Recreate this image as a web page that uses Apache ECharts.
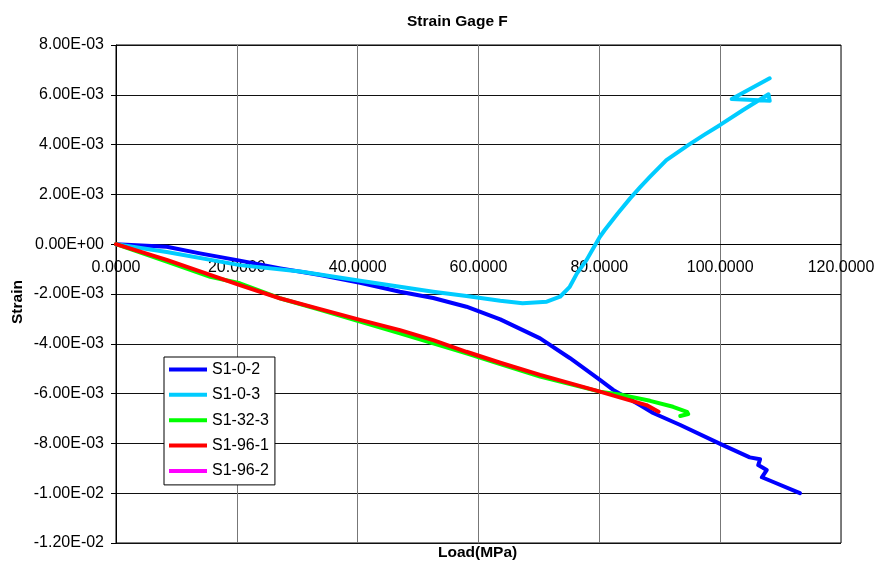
<!DOCTYPE html>
<html>
<head>
<meta charset="utf-8">
<script src="https://cdn.jsdelivr.net/npm/echarts@6/dist/echarts.min.js"></script>
<style>
  html, body { margin: 0; padding: 0; background: #fff; }
  #chart { width: 876px; height: 563px; }
</style>
</head>
<body>
<div id="chart"></div>
<script>
// Series names
const seriesNames = ['S1-0-2', 'S1-0-3', 'S1-32-3', 'S1-96-1', 'S1-96-2'];

// Load (MPa) / strain readings for each specimen
const loadS102 = [0, 8.4, 13.9, 20.5, 27.2, 33.8, 40.4, 47.0, 52.5, 58.0, 63.6, 70.2, 75.1, 80.1, 82.3, 86.7, 88.9, 93.4, 100.0, 104.9, 106.6, 106.3, 107.7, 106.9, 108.7, 113.2];
const strainS102 = [0, -0.10e-3, -0.37e-3, -0.66e-3, -0.97e-3, -1.24e-3, -1.55e-3, -1.91e-3, -2.16e-3, -2.51e-3, -3.02e-3, -3.78e-3, -4.57e-3, -5.45e-3, -5.85e-3, -6.46e-3, -6.78e-3, -7.26e-3, -8.02e-3, -8.56e-3, -8.64e-3, -8.87e-3, -9.07e-3, -9.36e-3, -9.54e-3, -10.00e-3];

const loadS103 = [0, 8.4, 20.5, 30.5, 40.4, 47.0, 52.5, 58.0, 63.6, 67.3, 71.3, 73.5, 75.1, 76.3, 77.9, 79.0, 80.1, 80.9, 83.0, 85.1, 86.8, 88.4, 91.1, 94.7, 97.4, 100.0, 103.8, 106.0, 108.0, 108.2, 101.9, 104.4, 108.2];
const strainS103 = [0, -0.31e-3, -0.84e-3, -1.10e-3, -1.47e-3, -1.71e-3, -1.91e-3, -2.08e-3, -2.27e-3, -2.37e-3, -2.31e-3, -2.11e-3, -1.71e-3, -1.17e-3, -0.63e-3, -0.16e-3, 0.30e-3, 0.57e-3, 1.22e-3, 1.84e-3, 2.30e-3, 2.71e-3, 3.38e-3, 3.98e-3, 4.40e-3, 4.79e-3, 5.39e-3, 5.72e-3, 6.02e-3, 5.76e-3, 5.83e-3, 6.16e-3, 6.66e-3];

const loadS1323 = [0, 8.4, 15.6, 20.5, 27.1, 33.8, 40.4, 47.0, 52.5, 58.0, 63.6, 70.2, 80.1, 83.9, 88.4, 92.2, 94.5, 94.7, 93.4];
const strainS1323 = [0, -0.70e-3, -1.31e-3, -1.57e-3, -2.17e-3, -2.64e-3, -3.11e-3, -3.58e-3, -3.98e-3, -4.38e-3, -4.82e-3, -5.32e-3, -5.92e-3, -6.06e-3, -6.29e-3, -6.53e-3, -6.73e-3, -6.82e-3, -6.90e-3];

const loadS1961 = [0, 8.4, 20.5, 27.1, 33.8, 40.4, 47.0, 52.5, 58.0, 63.6, 70.2, 80.1, 84.5, 87.8, 89.8];
const strainS1961 = [0, -0.63e-3, -1.64e-3, -2.17e-3, -2.61e-3, -3.04e-3, -3.45e-3, -3.85e-3, -4.32e-3, -4.76e-3, -5.25e-3, -5.92e-3, -6.23e-3, -6.46e-3, -6.73e-3];

const loadS1962 = [];
const strainS1962 = [];

// Axis ranges
const xMin = 0, xMax = 120, xStep = 20;
const yMin = -0.012, yMax = 0.008, yStep = 0.002;

const colors = ['#0000FF', '#00CCFF', '#00FF00', '#FF0000', '#FF00FF'];

function pairs(xs, ys) {
  return xs.map((x, i) => [x, ys[i]]);
}

// Excel-style scientific label, e.g. -2.00E-03
function sci(v) {
  if (Math.abs(v) < 1e-12) return '0.00E+00';
  const s = v.toExponential(2);
  const parts = s.split('e');
  const sign = parts[1][0];
  const digits = parts[1].slice(1).padStart(2, '0');
  return parts[0] + 'E' + sign + digits;
}

const seriesData = [
  pairs(loadS102, strainS102),
  pairs(loadS103, strainS103),
  pairs(loadS1323, strainS1323),
  pairs(loadS1961, strainS1961),
  pairs(loadS1962, strainS1962)
];

const font = 'Liberation Sans, Arial, sans-serif';

const chart = echarts.init(document.getElementById('chart'), null, { renderer: 'canvas' });

chart.setOption({
  backgroundColor: '#fff',
  animation: false,
  title: {
    text: 'Strain Gage F',
    left: 407,
    top: 14,
    padding: 0,
    textStyle: { fontFamily: font, fontSize: 15.5, fontWeight: 'bold', color: '#000' }
  },
  grid: {
    left: 116, right: 35, top: 45, bottom: 20,
    outerBoundsMode: 'none',
    containLabel: false,
    show: true, borderColor: '#000', borderWidth: 1, backgroundColor: 'transparent'
  },
  legend: {
    orient: 'vertical',
    left: 164,
    top: 357,
    padding: [3.5, 6, 5, 5],
    itemGap: 7.35,
    itemWidth: 38,
    itemHeight: 4,
    icon: 'rect',
    backgroundColor: '#fff',
    borderColor: '#000',
    borderWidth: 1,
    borderRadius: 0,
    data: seriesNames,
    textStyle: { fontFamily: font, fontSize: 16, color: '#000', lineHeight: 18 }
  },
  xAxis: {
    type: 'value',
    position: 'bottom',
    min: xMin, max: xMax, interval: xStep,
    axisLine: { show: true, onZero: false, lineStyle: { color: '#000', width: 1 } },
    axisTick: { show: false },
    axisLabel: {
      margin: 15,
      hideOverlap: false,
      fontFamily: font, fontSize: 16, color: '#000',
      formatter: v => v.toFixed(4)
    },
    splitLine: { show: true, lineStyle: { color: '#777', width: 1 } }
  },
  yAxis: {
    type: 'value',
    min: yMin, max: yMax, interval: yStep,
    axisLine: { show: true, onZero: false, lineStyle: { color: '#000', width: 1 } },
    axisTick: { show: true, inside: false, length: 5, lineStyle: { color: '#000' } },
    axisLabel: {
      margin: 12,
      fontFamily: font, fontSize: 16, color: '#000',
      formatter: v => sci(v)
    },
    splitLine: { show: true, lineStyle: { color: '#111', width: 1 } }
  },
  graphic: [
    {
      type: 'text',
      left: 438, top: 545,
      style: { text: 'Load(MPa)', font: 'bold 15.5px ' + font, fill: '#000' }
    },
    {
      type: 'text',
      x: 10, y: 324,
      rotation: Math.PI / 2,
      style: { text: 'Strain', font: 'bold 15.5px ' + font, fill: '#000' }
    }
  ],
  series: seriesNames.map((name, i) => ({
    name: name,
    type: 'line',
    zlevel: 1,
    data: seriesData[i],
    symbol: 'none',
    showSymbol: false,
    smooth: false,
    clip: true,
    lineStyle: { color: colors[i], width: 4, cap: 'round', join: 'round' },
    itemStyle: { color: colors[i] }
  }))
});

// Move the load axis (line + labels) up so it crosses the strain axis at zero
const yZeroPx = chart.convertToPixel({ yAxisIndex: 0 }, 0);
const yBottomPx = chart.convertToPixel({ yAxisIndex: 0 }, yMin);
chart.setOption({ xAxis: { offset: yZeroPx - yBottomPx } });
</script>
</body>
</html>
